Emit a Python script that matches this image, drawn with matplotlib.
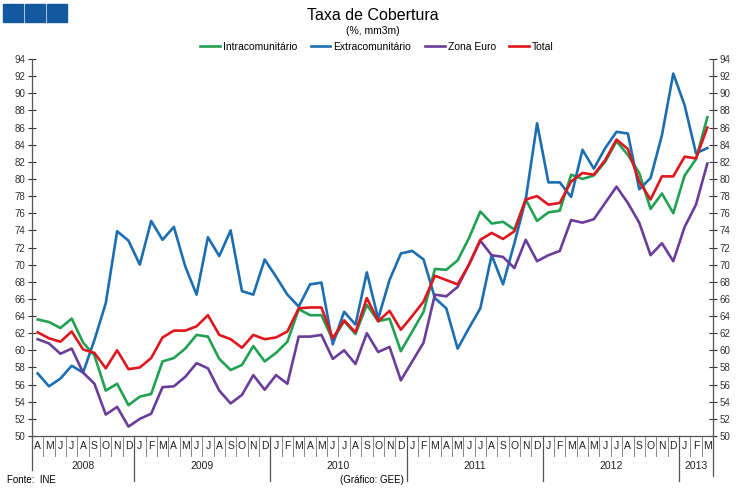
import numpy as np
import matplotlib.pyplot as plt
from matplotlib.transforms import blended_transform_factory
from matplotlib.patches import Rectangle

plt.rcParams['font.family'] = ['Liberation Sans', 'DejaVu Sans']

# monthly, April 2008 .. March 2013
month_letters = ['J', 'F', 'M', 'A', 'M', 'J', 'J', 'A', 'S', 'O', 'N', 'D']
years = [2008, 2009, 2010, 2011, 2012, 2013]

intra = [63.6, 63.3, 62.6, 63.7, 60.9, 59.4, 55.3, 56.1, 53.6, 54.6,
         54.9, 58.7, 59.1, 60.2, 61.8, 61.6, 59.0, 57.7, 58.3, 60.5,
         58.7, 59.7, 61.0, 64.8, 64.1, 64.1, 61.2, 63.4, 61.9, 65.3,
         63.4, 63.7, 59.9, 62.2, 64.5, 69.5, 69.4, 70.5, 73.1, 76.2,
         74.8, 75.0, 74.1, 77.6, 75.1, 76.1, 76.3, 80.5, 80.0, 80.4,
         82.0, 84.4, 82.8, 80.7, 76.5, 78.3, 76.0, 80.4, 82.3, 87.2]
extra = [57.3, 55.8, 56.7, 58.2, 57.4, 61.2, 65.5, 73.9, 72.8, 70.0,
         75.1, 72.9, 74.4, 69.8, 66.5, 73.2, 71.0, 74.0, 66.9, 66.5,
         70.6, 68.6, 66.5, 65.1, 67.7, 67.9, 60.7, 64.5, 63.0, 69.1,
         63.7, 68.2, 71.3, 71.6, 70.6, 66.1, 64.9, 60.2, 62.6, 64.9,
         71.1, 67.7, 72.5, 77.6, 86.5, 79.6, 79.6, 77.9, 83.4, 81.2,
         83.6, 85.5, 85.3, 78.8, 80.1, 85.1, 92.3, 88.6, 83.0, 83.6]
euro = [61.3, 60.8, 59.6, 60.2, 57.4, 56.1, 52.5, 53.4, 51.1, 52.0,
        52.6, 55.7, 55.8, 56.9, 58.5, 57.9, 55.3, 53.8, 54.8, 57.1,
        55.4, 57.1, 56.1, 61.6, 61.6, 61.8, 59.0, 60.0, 58.4, 62.0,
        59.8, 60.4, 56.5, 58.7, 60.9, 66.5, 66.3, 67.4, 70.0, 72.8,
        71.1, 70.9, 69.6, 72.9, 70.4, 71.1, 71.6, 75.2, 74.9, 75.3,
        77.2, 79.1, 77.2, 74.9, 71.1, 72.5, 70.4, 74.4, 77.0, 81.8]
total = [62.1, 61.4, 61.0, 62.2, 60.1, 59.7, 57.9, 60.0, 57.8, 58.0,
         59.1, 61.5, 62.3, 62.3, 62.8, 64.1, 61.8, 61.3, 60.3, 61.8,
         61.3, 61.5, 62.2, 64.9, 65.0, 65.0, 61.4, 63.5, 62.1, 66.1,
         63.4, 64.6, 62.4, 64.0, 65.7, 68.7, 68.2, 67.7, 70.0, 72.9,
         73.7, 73.0, 73.9, 77.6, 78.0, 77.0, 77.2, 79.7, 80.7, 80.5,
         82.2, 84.6, 83.5, 79.7, 77.6, 80.3, 80.3, 82.6, 82.4, 86.0]

n = len(total)
x = np.arange(n)
month_idx = [(3 + i) % 12 for i in range(n)]   # start in April
year_of = [2008 + (3 + i) // 12 for i in range(n)]

fig = plt.figure(figsize=(7.45, 4.91), dpi=100)
ax = fig.add_axes([32/745, 1-436/491, 681/745, 377/491])

ax.plot(x, intra, color='#21A152', lw=1.9, label='Intracomunitário')
ax.plot(x, extra, color='#1C6EB0', lw=1.9, label='Extracomunitário')
ax.plot(x, euro, color='#6A3D9A', lw=1.9, label='Zona Euro')
ax.plot(x, total, color='#E0161E', lw=1.9, label='Total')

ax.set_xlim(-0.5, n - 0.5)
ax.set_ylim(50, 94)
ax.set_yticks(np.arange(50, 95, 2))
ax.tick_params(axis='y', which='major', direction='inout', length=6, width=0.8,
               labelsize=7, left=True, right=True, labelleft=True, labelright=True,
               colors='#333333', pad=2)
ax.set_xticks([])
ax.spines['top'].set_visible(False)
for s in ['left', 'right', 'bottom']:
    ax.spines[s].set_color('#555555')
    ax.spines[s].set_linewidth(0.9)

tr = blended_transform_factory(ax.transData, ax.transAxes)
axh = 377.0
# month separators and letters
for i in range(n):
    ax.text(x[i], -10/axh, month_letters[month_idx[i]], transform=tr,
            ha='center', va='center', fontsize=7.5, color='#222222')
    ax.plot([i - 0.5, i - 0.5], [0, -20/axh], transform=tr, color='#888888',
            lw=0.7, clip_on=False)
# year separators and labels
for yr in years:
    idx = [i for i in range(n) if year_of[i] == yr]
    ax.text((idx[0] + idx[-1]) / 2.0, -30/axh, str(yr), transform=tr,
            ha='center', va='center', fontsize=7.5, color='#222222')
    depth = 34 if idx[0] == 0 else 45
    ax.plot([idx[0] - 0.5, idx[0] - 0.5], [0, -depth/axh], transform=tr,
            color='#555555', lw=0.9, clip_on=False)
ax.plot([n - 0.5, n - 0.5], [0, -40/axh], transform=tr, color='#555555',
        lw=0.9, clip_on=False)

fig.text(0.5, 1 - 16/491, 'Taxa de Cobertura', ha='center', va='center', fontsize=11.5)
fig.text(0.5, 1 - 31/491, '(%, mm3m)', ha='center', va='center', fontsize=7.5)
fig.legend(loc='center', bbox_to_anchor=(0.506, 1 - 47/491), ncol=4, frameon=False,
           fontsize=7.5, handlelength=1.9, handletextpad=0.3, columnspacing=1.3)

fig.text(7/745, 1 - 480/491, 'Fonte:  INE', ha='left', va='center', fontsize=7)
fig.text(372/745, 1 - 480/491, '(Gráfico: GEE)', ha='center', va='center', fontsize=7)

for x0 in [3, 25, 47]:
    fig.patches.append(Rectangle((x0/745, 1 - 22/491), 20/745, 18/491,
                                 transform=fig.transFigure, color='#1359A0'))

fig.savefig('out.png', dpi=100)
